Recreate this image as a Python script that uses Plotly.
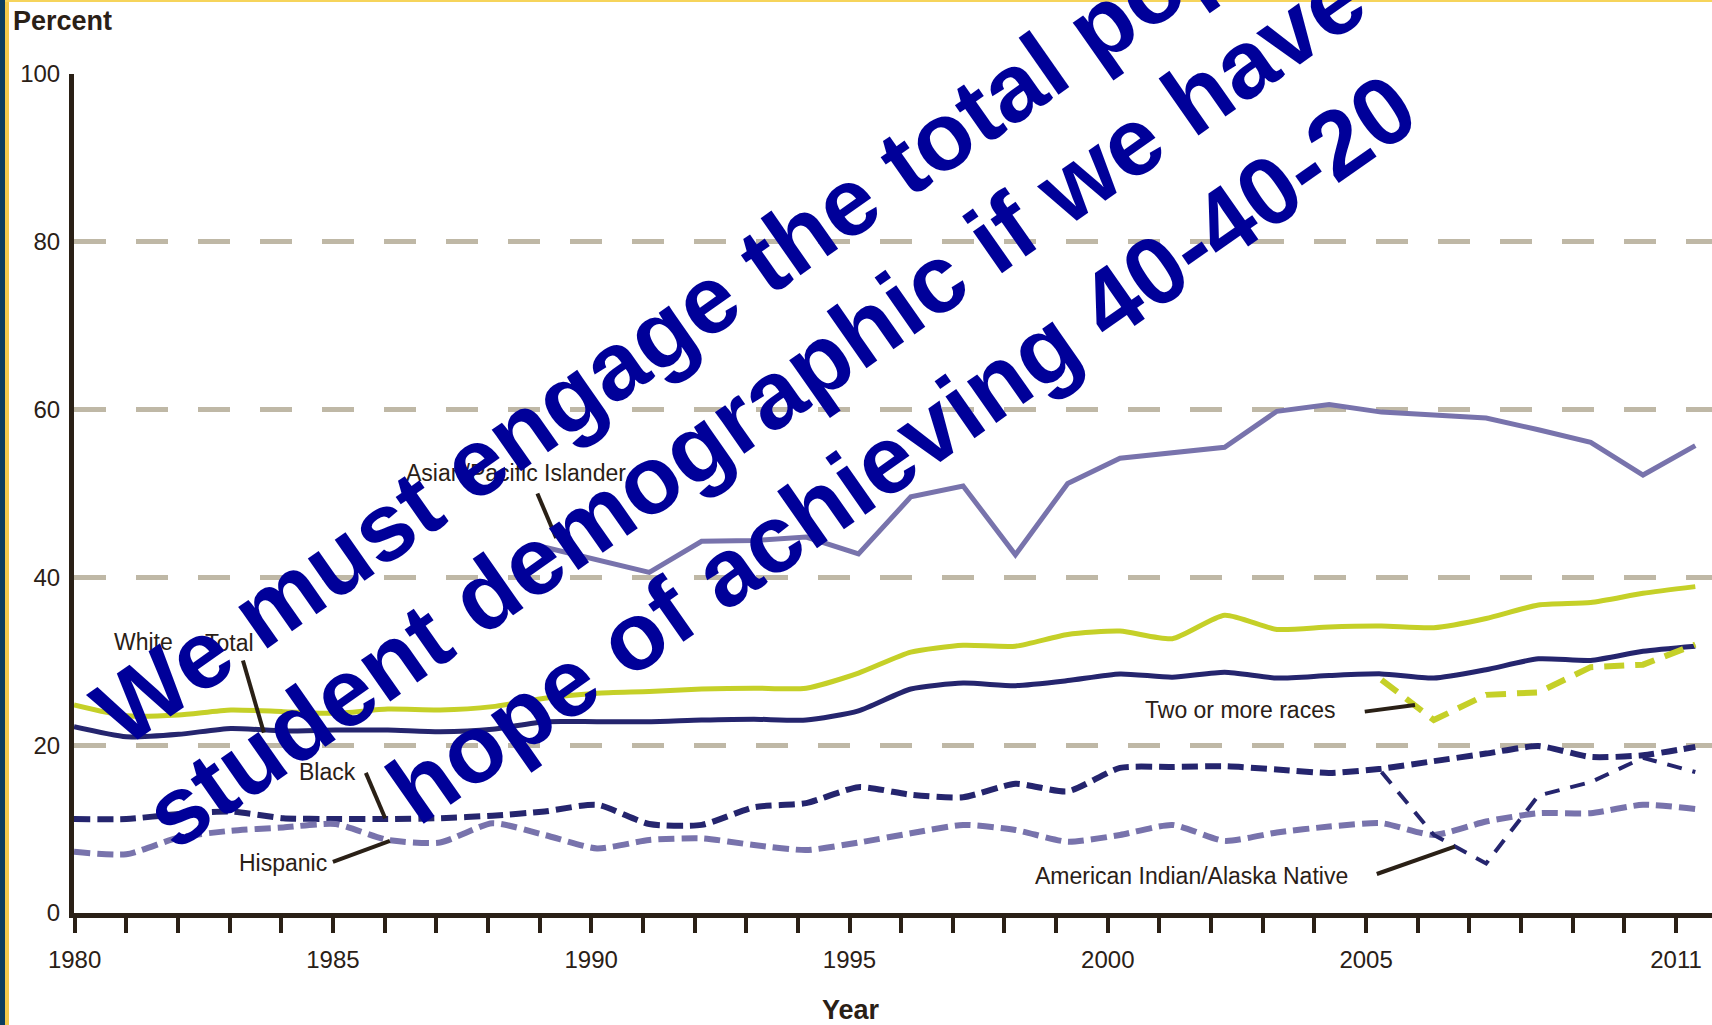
import plotly.graph_objects as go

# ---------------- data ----------------
years = list(range(1980, 2012))
white = [24.8, 23.5, 23.6, 24.2, 24.0, 23.8, 24.3, 24.2, 24.6, 25.6, 26.2, 26.4, 26.7, 26.8, 26.8, 28.6,
         31.1, 31.9, 31.8, 33.2, 33.6, 32.7, 35.5, 33.8, 34.1, 34.2, 34.0, 35.1, 36.7, 37.0, 38.1, 38.9]
total = [22.2, 21.0, 21.3, 22.0, 21.7, 21.8, 21.8, 21.6, 21.9, 22.8, 22.8, 22.8, 23.0, 23.1, 23.0, 24.1,
         26.7, 27.4, 27.1, 27.7, 28.5, 28.1, 28.7, 28.0, 28.3, 28.5, 28.0, 29.0, 30.3, 30.1, 31.2, 31.8]
black = [11.2, 11.2, 11.8, 12.1, 11.3, 11.2, 11.2, 11.3, 11.6, 12.1, 12.9, 10.6, 10.5, 12.6, 13.1, 15.0,
         14.1, 13.8, 15.4, 14.5, 17.3, 17.4, 17.5, 17.1, 16.7, 17.2, 18.1, 19.0, 19.9, 18.6, 18.8, 19.8]
hispanic = [7.3, 7.0, 9.0, 9.8, 10.2, 10.6, 8.7, 8.4, 10.7, 9.3, 7.7, 8.7, 8.9, 8.1, 7.5, 8.4,
            9.5, 10.5, 9.9, 8.5, 9.3, 10.5, 8.6, 9.6, 10.3, 10.7, 9.3, 10.9, 11.9, 11.9, 12.9, 12.4]
asian_years = list(range(1989, 2012))
asian = [43.6, 42.1, 40.6, 44.3, 44.4, 44.8, 42.8, 49.6, 50.9, 42.7, 51.2, 54.2, 54.8, 55.5, 59.8,
         60.6, 59.7, 59.4, 59.0, 57.6, 56.1, 52.2, 55.7]
recent_years = list(range(2005, 2012))
aian = [16.8, 9.3, 5.9, 14.0, 15.6, 18.5, 16.8]
two_or_more = [27.8, 23.0, 26.0, 26.3, 29.3, 29.6, 32.0]

tick_years = list(range(1980, 2012))
tick_labelled = [1980, 1985, 1990, 1995, 2000, 2005, 2011]
y_ticks = [0, 20, 40, 60, 80, 100]

overlay_lines = ["We must engage the total population",
                 "student demographic if we have any",
                 "hope of achieving 40-40-20"]

# ---------------- styles / layout constants ----------------
W, H = 1712, 1025
L, R, T, B = 74, 0, 74, 112
PLOT_W = W - L - R
PLOT_H = H - T - B
DATA_PX_PER_YEAR = 52.3     # spacing of the data points
TICK_PX_PER_YEAR = 51.66    # spacing of the printed tick marks
TICK_PX_OFFSET = 0.6

NAVY = "#25256e"
LAV = "#7873ac"
YG = "#c5d028"
INK = "#2a2016"
GRID = "#bfb8a6"
LABEL_FONT = "Liberation Sans, Arial, sans-serif"

x_max = 1980 + PLOT_W / DATA_PX_PER_YEAR


def px_x(px):
    return (px - L) / PLOT_W


def px_y(py):
    return (H - B - py) / PLOT_H


fig = go.Figure()

series = [
    (years, white, YG, 5, "solid", "spline", "White"),
    (years, total, NAVY, 5, "solid", "spline", "Total"),
    (years, black, NAVY, 6, "16px,7px", "spline", "Black"),
    (years, hispanic, LAV, 6, "16px,7px", "spline", "Hispanic"),
    (asian_years, asian, LAV, 5, "solid", "linear", "Asian/Pacific Islander"),
    (recent_years, aian, NAVY, 4, "15px,11px", "linear", "American Indian/Alaska Native"),
    (recent_years, two_or_more, YG, 6, "20px,11px", "linear", "Two or more races"),
]
for xs, ys, col, w, dash, shape, name in series:
    line = dict(color=col, width=w, dash=dash, shape=shape)
    if shape == "spline":
        line["smoothing"] = 0.6
    fig.add_trace(go.Scatter(x=xs, y=ys, mode="lines", line=line, name=name,
                             showlegend=False, hoverinfo="skip"))

# series labels with leader lines (label center, leader start, leader end) in data units
labels = [
    ("Asian/Pacific Islander", (1988.45, 52.5), (1988.86, 50.0), (1989.22, 44.7)),
    ("White", (1981.32, 32.3), None, None),
    ("Total", (1982.97, 32.2), (1983.23, 30.1), (1983.63, 21.5)),
    ("Black", (1984.84, 16.8), (1985.58, 16.7), (1985.95, 11.3)),
    ("Hispanic", (1983.99, 5.96), (1984.95, 6.1), (1986.04, 8.6)),
    ("Two or more races", (2002.29, 24.2), (2004.68, 24.0), (2005.64, 24.8)),
    ("American Indian/Alaska Native", (2001.36, 4.41), (2004.91, 4.65), (2006.40, 7.9)),
]
annotations = []
shapes = []
for text, (lx, ly), p0, p1 in labels:
    annotations.append(dict(x=lx, y=ly, xref="x", yref="y", text=text, showarrow=False,
                            font=dict(family=LABEL_FONT, size=23, color=INK),
                            xanchor="center", yanchor="middle"))
    if p0 is not None:
        shapes.append(dict(type="line", xref="x", yref="y", x0=p0[0], y0=p0[1],
                           x1=p1[0], y1=p1[1], line=dict(color=INK, width=4)))

annotations.append(dict(x=px_x(62), y=px_y(21), xref="paper", yref="paper", text="<b>Percent</b>",
                        showarrow=False, font=dict(family=LABEL_FONT, size=27, color=INK),
                        xanchor="center", yanchor="middle"))
annotations.append(dict(x=px_x(851), y=px_y(1010), xref="paper", yref="paper", text="<b>Year</b>",
                        showarrow=False, font=dict(family=LABEL_FONT, size=27, color=INK),
                        xanchor="center", yanchor="middle"))

# overlay slogan, one annotation per line (centres in page pixels)
SLOGAN_ANGLE = 35
slogan_centres = [(792, 241), (833, 350), (901, 448)]
for txt, (cx, cy) in zip(overlay_lines, slogan_centres):
    annotations.append(dict(x=px_x(cx), y=px_y(cy), xref="paper", yref="paper",
                            text=txt, showarrow=False, textangle=-SLOGAN_ANGLE,
                            xanchor="center", yanchor="middle",
                            font=dict(family="Liberation Sans, Arial, sans-serif", size=96,
                                      color="#000099", weight="bold")))

# slide frame on the left and top
shapes += [
    dict(type="rect", xref="paper", yref="paper", x0=px_x(0), x1=px_x(5), y0=px_y(H), y1=px_y(0),
         fillcolor="#0b3d5f", line=dict(width=0), layer="above"),
    dict(type="rect", xref="paper", yref="paper", x0=px_x(5), x1=px_x(9), y0=px_y(H), y1=px_y(0),
         fillcolor="#f3c94a", line=dict(width=0), layer="above"),
    dict(type="rect", xref="paper", yref="paper", x0=px_x(5), x1=px_x(W), y0=px_y(2), y1=px_y(0),
         fillcolor="#f6d45b", line=dict(width=0), layer="above"),
]

tickvals = [1980 + (TICK_PX_OFFSET + (yv - 1980) * TICK_PX_PER_YEAR) / DATA_PX_PER_YEAR for yv in tick_years]
ticktext = [str(yv) if yv in tick_labelled else "" for yv in tick_years]

fig.update_layout(
    width=W, height=H,
    margin=dict(l=L, r=R, t=T, b=B),
    paper_bgcolor="white", plot_bgcolor="white",
    annotations=annotations, shapes=shapes,
    xaxis=dict(range=[1980, x_max], showgrid=False, zeroline=False,
               showline=True, linecolor=INK, linewidth=5,
               ticks="outside", ticklen=15, tickwidth=4, tickcolor=INK,
               tickvals=tickvals, ticktext=ticktext, ticklabelstandoff=6,
               tickfont=dict(family=LABEL_FONT, size=24, color=INK)),
    yaxis=dict(range=[0, 100], tickvals=y_ticks, showgrid=True, gridcolor=GRID, gridwidth=5,
               griddash="32px,30px", zeroline=False, showline=True, linecolor=INK, linewidth=5,
               ticks="", ticklabelstandoff=4,
               tickfont=dict(family=LABEL_FONT, size=24, color=INK)),
)

fig.write_html("out.html", config={"displayModeBar": False},
               post_script="document.body.style.margin='0';document.body.style.overflow='hidden';")
